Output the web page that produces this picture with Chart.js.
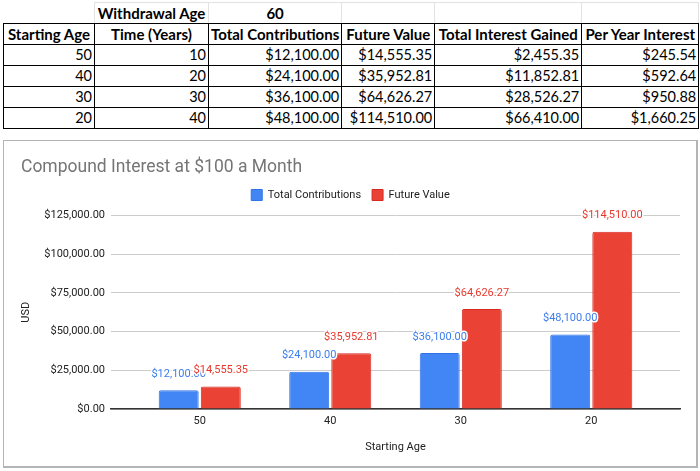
<!DOCTYPE html>
<html>
<head>
<meta charset="utf-8">
<script src="https://cdn.jsdelivr.net/npm/chart.js@4.4.1/dist/chart.umd.min.js"></script>
<style>
  html, body { margin: 0; padding: 0; background: #fff; }
  body { width: 700px; height: 471px; position: relative; overflow: hidden; }
  #sheet { position: absolute; left: 3px; top: 2px; border-collapse: collapse; font-family: Lato, "Open Sans", sans-serif; font-size: 15px; color: #000; table-layout: fixed; }
  #sheet td { height: 20px; padding: 0 2px; white-space: nowrap; overflow: hidden; line-height: 20px; }
  #sheet tr.top td { border: 1px solid #e2e2e2; font-weight: bold; text-align: center; border-bottom: 1px solid #000; }
  #sheet tr.top td.blank { border-top: none; border-left: none; }
  #sheet tr.head td { border: 1px solid #000; font-weight: bold; text-align: center; }
  #sheet tr.row td { border: 1px solid #000; text-align: right; font-size: 14.5px; }
  #chartBox { position: absolute; left: 3px; top: 140px; width: 692px; height: 325px; border: 1px solid #b4b4b4; border-right-width: 2px; border-bottom-width: 2px; }
</style>
</head>
<body>
<table id="sheet">
  <colgroup>
    <col style="width:91px"><col style="width:114px"><col style="width:132px">
    <col style="width:93px"><col style="width:147px"><col style="width:117px">
  </colgroup>
  <tbody id="sheet-body"></tbody>
</table>
<div id="chartBox"><canvas id="myBarChart"></canvas></div>
<script>
// Datos de la hoja
const withdrawalAge = 60;
const startingAges = ["50", "40", "30", "20"];
const timeYears = [10, 20, 30, 40];
const totalContributions = [12100.0, 24100.0, 36100.0, 48100.0];
const futureValues = [14555.35, 35952.81, 64626.27, 114510.0];
const totalInterest = [2455.35, 11852.81, 28526.27, 66410.0];
const perYearInterest = [245.54, 592.64, 950.88, 1660.25];
const headers = ["Starting Age", "Time (Years)", "Total Contributions", "Future Value", "Total Interest Gained", "Per Year Interest"];
const yTicks = [0, 25000, 50000, 75000, 100000, 125000];

const money = (v) => "$" + v.toLocaleString("en-US", { minimumFractionDigits: 2, maximumFractionDigits: 2 });

// Rellenar tabla
const body = document.getElementById("sheet-body");
body.innerHTML =
  `<tr class="top"><td class="blank"></td><td>Withdrawal Age</td><td>${withdrawalAge}</td><td></td><td></td><td></td></tr>` +
  `<tr class="head">${headers.map((h) => `<td>${h}</td>`).join("")}</tr>`;
startingAges.forEach((age, i) => {
  const tr = document.createElement("tr");
  tr.className = "row";
  tr.innerHTML = `<td>${age}</td><td>${timeYears[i]}</td><td>${money(totalContributions[i])}</td><td>${money(futureValues[i])}</td><td>${money(totalInterest[i])}</td><td>${money(perYearInterest[i])}</td>`;
  body.appendChild(tr);
});

// Etiquetas encima de cada barra
const barLabels = {
  id: "barLabels",
  afterDatasetsDraw(chart) {
    const ctx = chart.ctx;
    ctx.save();
    ctx.font = "11px Roboto";
    ctx.textAlign = "center";
    ctx.textBaseline = "middle";
    ctx.lineJoin = "round";
    chart.data.datasets.forEach((ds, di) => {
      chart.getDatasetMeta(di).data.forEach((bar, i) => {
        const txt = money(ds.data[i].y);
        ctx.strokeStyle = "#fff";
        ctx.lineWidth = 3;
        ctx.strokeText(txt, bar.x, bar.y - 16);
        ctx.fillStyle = ds.labelColor;
        ctx.fillText(txt, bar.x, bar.y - 16);
      });
    });
    ctx.restore();
  },
};

const barCtx = document.getElementById("myBarChart").getContext("2d");
new Chart(barCtx, {
  type: "bar",
  data: {
    datasets: [
      {
        label: "Total Contributions",
        data: totalContributions.map((v, i) => ({ x: i, y: v })),
        backgroundColor: "#4285f4",
        borderColor: "#2f74e6",
        labelColor: "#3b7ded",
      },
      {
        label: "Future Value",
        data: futureValues.map((v, i) => ({ x: i, y: v })),
        backgroundColor: "#ea4335",
        borderColor: "#d62a20",
        labelColor: "#e8382c",
      },
    ],
  },
  options: {
    responsive: true,
    maintainAspectRatio: false,
    animation: false,
    devicePixelRatio: 1,
    layout: { padding: { left: 17, right: 16, top: 0, bottom: 0 } },
    datasets: {
      bar: {
        categoryPercentage: 0.645,
        barPercentage: 0.95,
        borderWidth: 1,
        borderRadius: { topLeft: 2, topRight: 2 },
        borderSkipped: "bottom",
      },
    },
    plugins: {
      title: {
        display: true,
        text: "Compound Interest at $100 a Month",
        align: "start",
        color: "#757575",
        font: { family: "Roboto", size: 17.5, weight: "normal", lineHeight: 1.2 },
        padding: { top: 16.5, bottom: 0 },
      },
      // espacio entre la leyenda y el área del gráfico
      subtitle: {
        display: true,
        text: "",
        weight: 500,
        font: { size: 1, lineHeight: 1 },
        padding: { top: 4, bottom: 0 },
      },
      legend: {
        display: true,
        labels: {
          boxWidth: 11,
          boxHeight: 11,
          color: "#222",
          font: { family: "Roboto", size: 11 },
          padding: 11,
        },
      },
      tooltip: { enabled: false },
    },
    scales: {
      x: {
        type: "linear",
        min: -0.68,
        max: 3.68,
        offset: false,
        bounds: "data",
        grid: { display: false, drawTicks: false, offset: false },
        border: { display: true, color: "#333", width: 1.5 },
        afterBuildTicks: (scale) => {
          scale.ticks = startingAges.map((a, i) => ({ value: i }));
        },
        afterFit: (scale) => {
          scale.height = 57;
        },
        ticks: {
          color: "#222",
          font: { family: "Roboto", size: 11 },
          padding: 6,
          callback: (v) => startingAges[v],
        },
        title: {
          display: true,
          text: "Starting Age",
          color: "#222",
          font: { family: "Roboto", size: 11 },
          padding: { top: 0, bottom: 12 },
        },
      },
      y: {
        min: 0,
        max: 125000,
        afterBuildTicks: (scale) => {
          scale.ticks = yTicks.map((v) => ({ value: v }));
        },
        afterFit: (scale) => {
          scale.width = 90;
        },
        grid: { color: "#cccccc", drawTicks: false },
        border: { display: false },
        ticks: {
          color: "#222",
          font: { family: "Roboto", size: 11 },
          padding: 6,
          callback: (v) => money(v),
        },
        title: {
          display: true,
          text: "USD",
          color: "#222",
          font: { family: "Roboto", size: 11, lineHeight: 1 },
          padding: { top: 0, bottom: 0 },
        },
      },
    },
  },
  plugins: [barLabels],
});
</script>
</body>
</html>
